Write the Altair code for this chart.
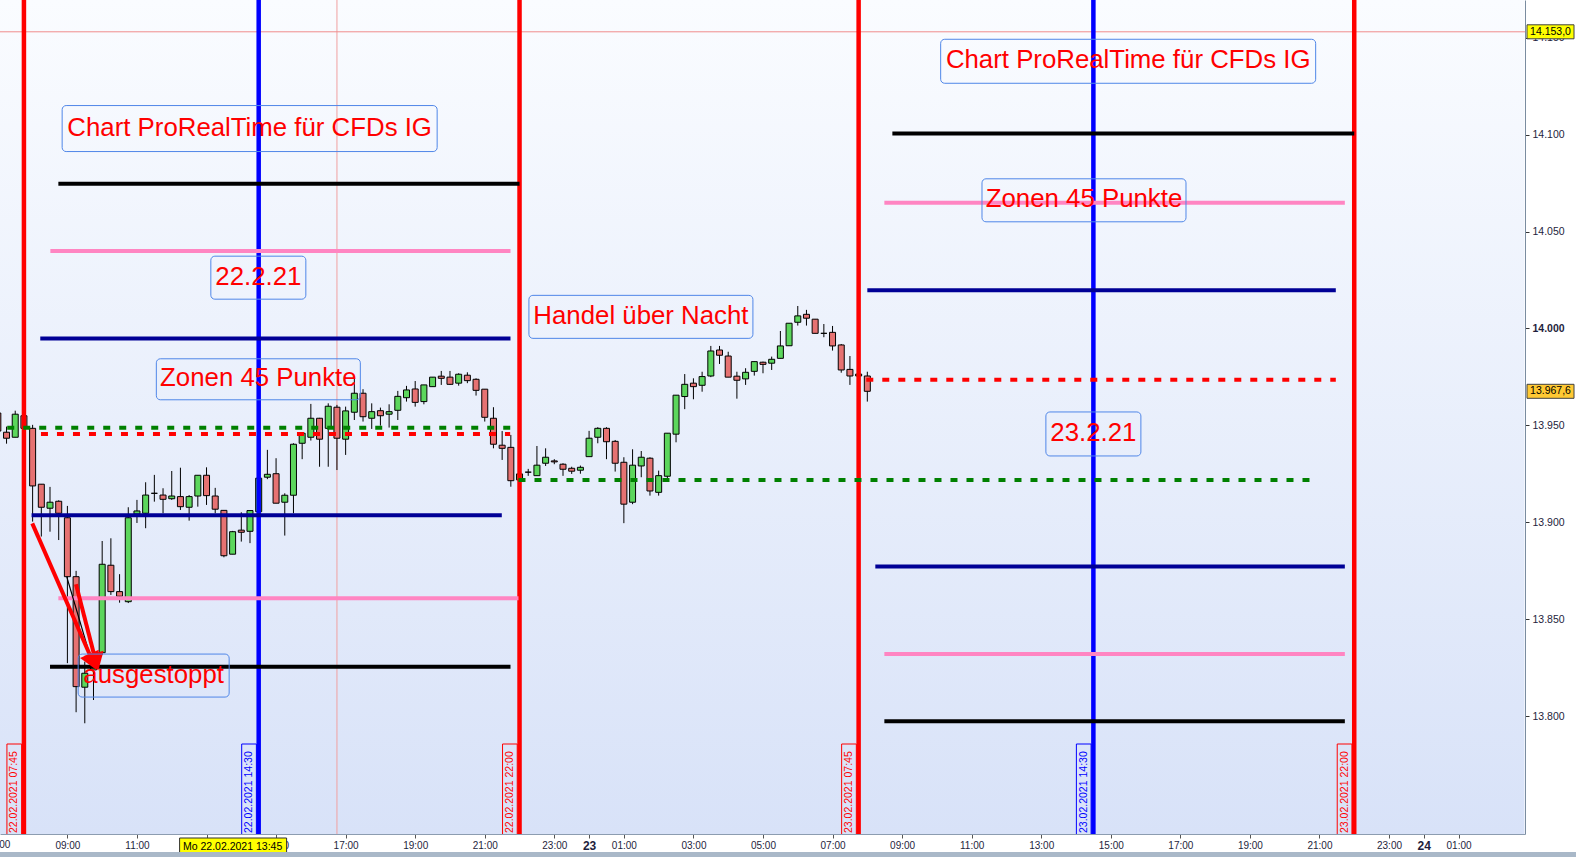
import altair as alt
import pandas as pd

FONT = "Liberation Sans"
W, H = 1525, 834

# 15-minute DAX CFD candles; time in hours counted from 22.02.2021 00:00
candle_time = [
    7.0, 7.25, 7.5, 7.75, 8.0, 8.25, 8.5, 8.75, 9.0, 9.25, 9.5, 9.75,
    10.0, 10.25, 10.5, 10.75, 11.0, 11.25, 11.5, 11.75, 12.0, 12.25, 12.5, 12.75,
    13.0, 13.25, 13.5, 13.75, 14.0, 14.25, 14.5, 14.75, 15.0, 15.25, 15.5, 15.75,
    16.0, 16.25, 16.5, 16.75, 17.0, 17.25, 17.5, 17.75, 18.0, 18.25, 18.5, 18.75,
    19.0, 19.25, 19.5, 19.75, 20.0, 20.25, 20.5, 20.75, 21.0, 21.25, 21.5, 21.75,
    22.0, 22.25, 22.5, 22.75, 23.0, 23.25, 23.5, 23.75, 24.0, 24.25, 24.5, 24.75,
    25.0, 25.25, 25.5, 25.75, 26.0, 26.25, 26.5, 26.75, 27.0, 27.25, 27.5, 27.75,
    28.0, 28.25, 28.5, 28.75, 29.0, 29.25, 29.5, 29.75, 30.0, 30.25, 30.5, 30.75,
    31.0, 31.25, 31.5, 31.75, 32.0,
]
candle_open = [
    13956.4, 13946.5, 13943.9, 13955.0, 13948.5, 13919.7, 13907.3, 13910.9, 13902.4, 13872.0, 13815.0, 13823.9,
    13832.8, 13877.9, 13864.3, 13859.1, 13904.3, 13904.7, 13915.0, 13914.1, 13912.2, 13913.3, 13907.8, 13913.6,
    13924.3, 13913.6, 13906.2, 13883.6, 13896.0, 13895.4, 13905.5, 13923.3, 13925.1, 13910.4, 13914.0, 13940.8,
    13943.9, 13953.7, 13948.5, 13959.4, 13942.9, 13956.8, 13966.6, 13953.7, 13957.6, 13955.8, 13957.8, 13964.3,
    13968.8, 13962.3, 13970.0, 13975.4, 13974.9, 13971.8, 13975.9, 13973.8, 13968.7, 13953.7, 13939.8, 13938.7,
    13921.9, 13925.9, 13924.1, 13930.5, 13931.7, 13930.0, 13927.9, 13926.9, 13933.9, 13943.9, 13948.5, 13941.8,
    13931.0, 13910.4, 13929.1, 13933.1, 13915.5, 13923.8, 13945.5, 13964.9, 13971.8, 13970.7, 13975.5, 13988.9,
    13985.8, 13975.4, 13974.0, 13977.9, 13982.6, 13982.1, 13984.6, 13991.1, 14003.2, 14007.3, 14004.8, 13997.5,
    13998.0, 13991.5, 13978.9, 13975.5, 13975.5,
]
candle_high = [
    13958.0, 13949.4, 13957.6, 13956.4, 13950.3, 13919.7, 13918.3, 13911.4, 13908.5, 13875.0, 13828.2, 13828.5,
    13890.4, 13891.8, 13873.3, 13907.8, 13911.6, 13920.7, 13924.5, 13917.6, 13926.5, 13928.2, 13914.1, 13924.3,
    13928.4, 13917.8, 13906.2, 13895.6, 13905.2, 13906.1, 13925.0, 13937.4, 13933.1, 13915.0, 13940.8, 13946.0,
    13961.1, 13953.9, 13961.4, 13960.6, 13959.7, 13975.2, 13968.7, 13961.4, 13959.2, 13960.9, 13967.8, 13970.4,
    13972.9, 13970.9, 13974.9, 13978.1, 13978.1, 13976.9, 13977.4, 13974.3, 13968.7, 13959.4, 13947.1, 13945.1,
    13925.6, 13927.6, 13939.4, 13938.2, 13932.6, 13930.5, 13928.7, 13929.3, 13947.2, 13949.1, 13949.1, 13942.5,
    13933.6, 13937.7, 13936.8, 13933.6, 13926.7, 13946.0, 13965.6, 13976.5, 13974.3, 13977.7, 13991.0, 13991.0,
    13988.0, 13977.7, 13979.5, 13982.9, 13982.9, 13985.5, 13998.7, 14002.7, 14011.6, 14009.6, 14004.8, 14002.3,
    14001.3, 13992.0, 13985.8, 13977.6, 13977.7,
]
candle_low = [
    13945.6, 13940.6, 13943.9, 13947.1, 13900.4, 13892.7, 13895.2, 13890.9, 13827.4, 13802.1, 13796.4, 13808.4,
    13831.6, 13862.6, 13858.6, 13858.4, 13899.7, 13897.0, 13910.7, 13904.7, 13911.6, 13906.4, 13900.9, 13908.1,
    13909.0, 13904.7, 13882.0, 13883.6, 13890.1, 13889.3, 13905.4, 13922.3, 13909.9, 13893.2, 13904.7, 13932.6,
    13942.2, 13928.7, 13928.7, 13927.0, 13934.8, 13952.8, 13952.0, 13948.2, 13949.9, 13948.9, 13952.8, 13962.3,
    13959.7, 13960.9, 13970.0, 13970.9, 13970.9, 13970.5, 13971.8, 13965.4, 13952.0, 13938.2, 13932.2, 13918.4,
    13921.0, 13924.0, 13924.1, 13929.1, 13930.0, 13924.0, 13925.0, 13925.1, 13933.9, 13940.8, 13932.6, 13926.2,
    13899.6, 13909.4, 13923.3, 13913.8, 13913.8, 13922.8, 13941.3, 13958.4, 13963.5, 13967.4, 13974.9, 13981.7,
    13974.9, 13963.8, 13970.9, 13975.7, 13976.9, 13978.6, 13984.6, 13991.1, 14001.5, 14001.5, 13997.5, 13995.5,
    13988.6, 13977.2, 13970.9, 13974.0, 13962.3,
]
candle_close = [
    13947.1, 13943.4, 13955.8, 13948.5, 13918.8, 13907.8, 13910.4, 13904.7, 13872.0, 13815.3, 13822.2, 13825.4,
    13878.4, 13864.3, 13861.9, 13902.4, 13905.9, 13914.1, 13915.0, 13911.9, 13913.6, 13908.1, 13913.3, 13924.3,
    13913.8, 13906.8, 13882.8, 13895.2, 13894.9, 13906.1, 13922.8, 13924.8, 13909.9, 13914.0, 13940.3, 13946.0,
    13953.7, 13942.9, 13959.9, 13943.4, 13957.5, 13966.6, 13954.5, 13957.1, 13955.0, 13957.1, 13965.0, 13968.3,
    13961.9, 13970.9, 13974.9, 13974.3, 13971.2, 13976.4, 13973.1, 13968.1, 13954.2, 13940.3, 13938.2, 13921.5,
    13925.0, 13925.9, 13929.5, 13933.6, 13931.2, 13927.4, 13926.4, 13928.4, 13943.4, 13948.5, 13941.6, 13930.5,
    13909.4, 13929.5, 13933.6, 13916.2, 13924.1, 13946.0, 13965.6, 13971.2, 13970.0, 13975.2, 13988.4, 13986.2,
    13974.9, 13973.3, 13977.4, 13982.9, 13981.5, 13984.1, 13991.0, 14002.7, 14006.5, 14005.3, 13997.5, 13997.5,
    13991.0, 13978.6, 13975.5, 13976.5, 13967.6,
]

# Session open/close and midday markers
session_time = [7.75, 22.0, 31.75, 46.0]
session_label = ["22.02.2021 07:45", "22.02.2021 22:00", "23.02.2021 07:45", "23.02.2021 22:00"]
midday_time = [14.5, 38.5]
midday_label = ["22.02.2021 14:30", "23.02.2021 14:30"]

# 45-point zones
zone_price = [14074.6, 14039.9, 13994.8, 13903.7, 13860.9, 13825.6,
              14100.5, 14064.8, 14019.7, 13877.2, 13832.1, 13797.4]
zone_start = [8.74, 8.51, 8.22, 7.97, 8.74, 8.50,
              32.72, 32.49, 32.00, 32.23, 32.49, 32.49]
zone_end = [22.0, 21.74, 21.74, 21.49, 21.97, 21.74,
            46.0, 45.73, 45.47, 45.73, 45.73, 45.73]
zone_kind = ["black", "pink", "navy", "navy", "pink", "black",
             "black", "pink", "navy", "navy", "pink", "black"]

# Dotted reference levels
dot_price = [13948.8, 13945.6, 13973.6, 13921.8]
dot_start = [7.27, 8.24, 31.97, 21.97]
dot_end = [21.77, 21.73, 45.47, 44.78]
dot_kind = ["green", "red", "red", "green"]

# Text notes (centre time, centre price)
note_text = ["Chart ProRealTime für CFDs IG", "22.2.21", "Zonen 45 Punkte", "Handel über Nacht",
             "ausgestoppt", "Chart ProRealTime für CFDs IG", "Zonen 45 Punkte", "23.2.21"]
note_time = [14.24, 14.49, 14.49, 25.49, 11.48, 39.50, 38.23, 38.50]
note_price = [14103.1, 14026.2, 13973.8, 14006.0, 13821.0, 14137.8, 14066.1, 13945.6]

# Stop-out arrows
arrow_t0 = [7.99, 9.247]
arrow_p0 = [13899.5, 13868.1]
arrow_t1 = [9.736, 9.822]
arrow_p1 = [13828.0, 13828.0]
guide_t0, guide_p0, guide_t1, guide_p1 = [8.98], [13872.0], [9.70], [13828.2]

# Cursor and price tags
cursor_time = 16.75
cursor_price = 14153.0
cursor_label_time = 13.75
cursor_label = "Mo 22.02.2021 13:45"
tag_price = [14153.0, 13967.6]
tag_text = ["14.153,0", "13.967,6"]

x_ticks = [7, 9, 11, 13, 15, 17, 19, 21, 23, 24, 25, 27, 29, 31, 33, 35, 37, 39,
           41, 43, 45, 47, 48, 49]
y_ticks = [13800, 13850, 13900, 13950, 14000, 14050, 14100, 14150]
# hour label that sits on the left edge, just before the visible time range
edge_tick = [7]
edge_tick_text = ["07:00"]

# ---- styling ----
palette = {
    "up": "#5cd65c", "down": "#e67272", "flat": "#000000",
    "black": "#000000", "pink": "#ff85c2", "navy": "#000096",
    "green": "#008000", "red": "#ff0000", "blue": "#0000ff",
}
color_scale = alt.Scale(domain=list(palette.keys()), range=list(palette.values()))
note_box = [(375, 46), (95, 43), (204, 41), (224, 43), (151, 43), (375, 44), (204, 43), (95, 44)]
tag_fill = ["#ffff00", "#ffc933"]
head_angle = [336, 345]
LABEL_COLOR = "#1e1e3c"

x_scale = alt.Scale(domain=[7.062, 50.91], nice=False, zero=False, padding=0)
y_scale = alt.Scale(domain=[13739.3, 14169.4], nice=False, zero=False, padding=0)

x_axis = alt.Axis(
    values=x_ticks,
    labelExpr="datum.value % 24 == 0 ? format(22 + datum.value / 24, 'd') : "
              "((datum.value % 24 < 10 ? '0' : '') + (datum.value % 24) + ':00')",
    labelFont=FONT,
    labelFontSize={"condition": {"test": "datum.value % 24 == 0", "value": 12}, "value": 10},
    labelFontWeight={"condition": {"test": "datum.value % 24 == 0", "value": "bold"}, "value": "normal"},
    labelColor=LABEL_COLOR, labelFlush=False, labelOverlap=False, labelPadding=2,
    tickSize=4, tickColor="#555555", domainColor="#8c9cb0", grid=False, title=None,
)
y_axis = alt.Axis(
    orient="right", values=y_ticks,
    labelExpr="replace(format(datum.value, ',d'), ',', '.')",
    labelFont=FONT, labelFontSize=10.5,
    labelFontWeight={"condition": {"test": "datum.value == 14000", "value": "bold"}, "value": "normal"},
    labelColor=LABEL_COLOR, labelFlush=False, labelOverlap=False, labelPadding=3,
    tickSize=4, tickColor="#333333", domainColor="#7a8ca0", grid=False, title=None,
)


def xq(field):
    return alt.X(f"{field}:Q", scale=x_scale, axis=x_axis)


def yq(field):
    return alt.Y(f"{field}:Q", scale=y_scale, axis=y_axis)


def kind_color(field):
    return alt.Color(f"{field}:N", scale=color_scale, legend=None)


one = pd.DataFrame({"k": [0]})

candles = pd.DataFrame({"t": candle_time, "open": candle_open, "high": candle_high,
                        "low": candle_low, "close": candle_close})
candles["dir"] = ["up" if c > o else ("down" if c < o else "flat")
                  for o, c in zip(candle_open, candle_close)]

gradient = alt.LinearGradient(
    gradient="linear",
    stops=[alt.GradientStop(color="#fafcff", offset=0), alt.GradientStop(color="#d8e2f8", offset=1)],
    x1=0, x2=0, y1=0, y2=1,
)
background = alt.Chart(one).mark_rect(color=gradient).encode(
    x=alt.value(0), x2=alt.value(W - 0.5), y=alt.value(0), y2=alt.value(H)
)

cross_v = alt.Chart(pd.DataFrame({"t": [cursor_time]})).mark_rule(
    color="#f0a0a0", strokeWidth=1).encode(x=xq("t"))
cross_h = alt.Chart(pd.DataFrame({"p": [cursor_price]})).mark_rule(
    color="#f08c8c", strokeWidth=1).encode(y=yq("p"))

wicks = alt.Chart(candles).mark_rule(color="black", strokeWidth=1, clip=True).encode(
    x=xq("t"), y=yq("low"), y2="high")
bodies = alt.Chart(candles).mark_bar(size=6, stroke="black", strokeWidth=1,
                                     orient="vertical", clip=True).encode(
    x=xq("t"), y=yq("open"), y2="close", color=kind_color("dir"))

vlines = pd.DataFrame({
    "t": session_time + midday_time,
    "label": session_label + midday_label,
    "kind": ["red"] * len(session_time) + ["blue"] * len(midday_time),
})
vertical = alt.Chart(vlines).mark_rule(strokeWidth=4.5).encode(
    x=xq("t"), color=kind_color("kind"))

zones = pd.DataFrame({"p": zone_price, "t0": zone_start, "t1": zone_end, "kind": zone_kind})
zone_rules = alt.Chart(zones).mark_rule(strokeWidth=4).encode(
    x=xq("t0"), x2="t1", y=yq("p"), color=kind_color("kind"))

dots = pd.DataFrame({"p": dot_price, "t0": dot_start, "t1": dot_end, "kind": dot_kind})
dot_rules = alt.Chart(dots).mark_rule(strokeWidth=4, strokeDash=[7, 9]).encode(
    x=xq("t0"), x2="t1", y=yq("p"), color=kind_color("kind"))

arrows = pd.DataFrame({"t0": arrow_t0, "p0": arrow_p0, "t1": arrow_t1, "p1": arrow_p1,
                       "ang": head_angle})
arrow_lines = alt.Chart(arrows).mark_rule(color="#ff0000", strokeWidth=4).encode(
    x=xq("t0"), x2="t1", y=yq("p0"), y2="p1")
guide = pd.DataFrame({"t0": guide_t0, "p0": guide_p0, "t1": guide_t1, "p1": guide_p1})
guide_line = alt.Chart(guide).mark_rule(color="black", strokeWidth=1.2).encode(
    x=xq("t0"), x2="t1", y=yq("p0"), y2="p1")
arrow_heads = alt.Chart(arrows).mark_point(shape="triangle-down", filled=True, color="#ff0000",
                                           size=420, opacity=1).encode(
    x=xq("t1"), y=yq("p1"), angle=alt.Angle("ang:Q", scale=None))

note_layers = []
for txt, t, p, (bw, bh) in zip(note_text, note_time, note_price, note_box):
    d = pd.DataFrame({"t": [t], "p": [p], "txt": [txt]})
    note_layers.append(
        alt.Chart(d).mark_rect(fillOpacity=0, stroke="#4f86e8", strokeWidth=1, cornerRadius=4,
                               xOffset=-bw / 2, x2Offset=bw / 2, yOffset=-bh / 2, y2Offset=bh / 2)
        .encode(x=xq("t"), x2="t", y=yq("p"), y2="p"))
    note_layers.append(
        alt.Chart(d).mark_text(font=FONT, fontSize=25.8, color="#ff0000", align="center",
                               baseline="middle", dy=-1)
        .encode(x=xq("t"), y=yq("p"), text="txt:N"))

stamp_boxes = alt.Chart(vlines).mark_rect(fillOpacity=0, strokeWidth=1, xOffset=-17,
                                          x2Offset=-2.3, clip=True).encode(
    x=xq("t"), x2="t", y=alt.value(744), y2=alt.value(H + 3),
    stroke=alt.Stroke("kind:N", scale=color_scale, legend=None))
stamp_text = alt.Chart(vlines).mark_text(font=FONT, fontSize=10.5, angle=270, align="left",
                                         baseline="middle", xOffset=-9.7).encode(
    x=xq("t"), y=alt.value(H - 1), text="label:N", color=kind_color("kind"))

edge_label = alt.Chart(pd.DataFrame({"t": edge_tick, "txt": edge_tick_text})).mark_text(
    font=FONT, fontSize=10, color=LABEL_COLOR, align="center", baseline="top").encode(
    x=xq("t"), y=alt.value(H + 6), text="txt:N")

tag_layers = []
for p, txt, fill in zip(tag_price, tag_text, tag_fill):
    d = pd.DataFrame({"p": [p], "txt": [txt]})
    tag_layers.append(
        alt.Chart(d).mark_rect(fill=fill, stroke="#404040", strokeWidth=1, yOffset=-7, y2Offset=7)
        .encode(x=alt.value(W + 2), x2=alt.value(W + 49), y=yq("p"), y2="p"))
    tag_layers.append(
        alt.Chart(d).mark_text(font=FONT, fontSize=10.5, color="black", align="center",
                               baseline="middle")
        .encode(x=alt.value(W + 25.5), y=yq("p"), text="txt:N"))

cur = pd.DataFrame({"t": [cursor_label_time], "txt": [cursor_label]})
cursor_box = alt.Chart(cur).mark_rect(fill="#ffff00", stroke="#303030", strokeWidth=1,
                                      xOffset=-53, x2Offset=54).encode(
    x=xq("t"), x2="t", y=alt.value(H + 4), y2=alt.value(H + 20))
cursor_text = alt.Chart(cur).mark_text(font=FONT, fontSize=10.5, color="black",
                                       align="center", baseline="middle").encode(
    x=xq("t"), y=alt.value(H + 12.5), text="txt:N")

footer = alt.Chart(one).mark_rect(color="#a9b8c8").encode(
    x=alt.value(0), x2=alt.value(W + 51), y=alt.value(H + 18), y2=alt.value(H + 23))

chart = alt.layer(
    background, cross_v, cross_h, wicks, bodies, vertical, zone_rules, dot_rules,
    guide_line, arrow_lines, arrow_heads, *note_layers, stamp_boxes, stamp_text,
    edge_label, *tag_layers, cursor_box, cursor_text, footer,
).properties(
    width=W, height=H,
    autosize=alt.AutoSizeParams(type="none"),
    padding={"left": 0, "top": 0, "right": 51, "bottom": 23},
    background="white",
).configure_view(strokeWidth=0)

chart.save("out.html", embed_options={"renderer": "svg", "actions": False})
